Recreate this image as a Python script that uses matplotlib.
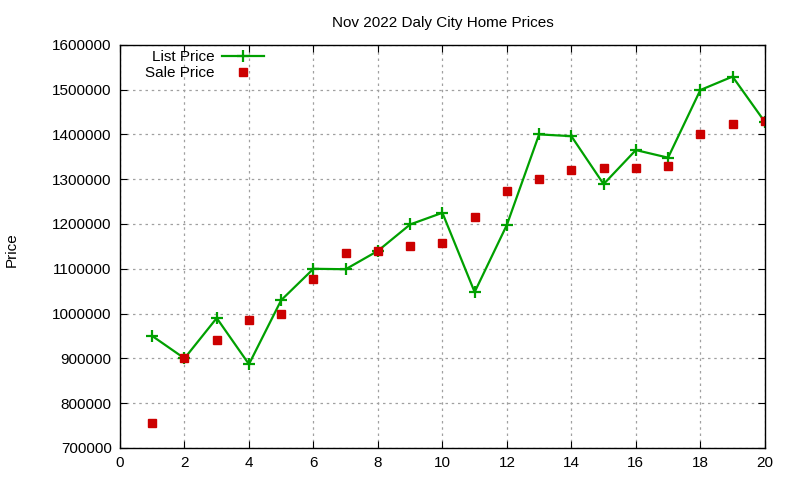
import numpy as np
import matplotlib
matplotlib.use("Agg")
import matplotlib.pyplot as plt
from matplotlib.ticker import FuncFormatter

# datos
dias = list(range(1, 21))
precio_lista = [950000, 900000, 990000, 887000, 1030000, 1100000, 1099000, 1140000,
                1199000, 1225000, 1048000, 1198000, 1400000, 1396000, 1289000,
                1365000, 1348000, 1499000, 1529000, 1428000]
precio_venta = [755000, 900000, 941000, 985000, 1000000, 1078000, 1135000, 1140000,
                1150000, 1158000, 1215000, 1274000, 1300000, 1320000, 1326000,
                1326000, 1330000, 1400000, 1424000, 1430000]

plt.rcParams['font.family'] = ['Liberation Sans', 'DejaVu Sans']
plt.rcParams['font.size'] = 11

fig = plt.figure(figsize=(8, 4.8), dpi=100)
ax = fig.add_axes([0.15, 0.0667, 0.806, 0.84])

ax.plot(dias, precio_lista, color='#00a000', linewidth=1.6, marker='+',
        markersize=8, markeredgewidth=1.6, label='List Price')
ax.plot(dias, precio_venta, linestyle='none', marker='s', color='#cc0000',
        markersize=6, label='Sale Price')

ax.set_xlim(0, 20)
ax.set_ylim(700000, 1600000)
ax.set_xticks(np.arange(0, 21, 2))
ax.set_yticks(np.arange(700000, 1600001, 100000))
ax.yaxis.set_major_formatter(FuncFormatter(lambda v, p: f"{int(v)}"))
ax.tick_params(direction='in', top=True, right=True, length=5, labelsize=11, pad=6)
ax.grid(True, linestyle=(0, (2, 3)), color='#a0a0a0', linewidth=0.9)
for s in ax.spines.values():
    s.set_linewidth(1.0)

ax.set_title('Nov 2022 Daly City Home Prices', fontsize=11, pad=13)
fig.text(0.015, 0.48, 'Price', rotation=90, va='center', ha='center', fontsize=11)

ax.legend(loc='upper left', bbox_to_anchor=(0.017, 1.02), frameon=False, markerfirst=False,
          handlelength=2.75, handletextpad=0.5, labelspacing=0.1, borderaxespad=0.5,
          fontsize=11)

plt.savefig('out.png', dpi=100)
